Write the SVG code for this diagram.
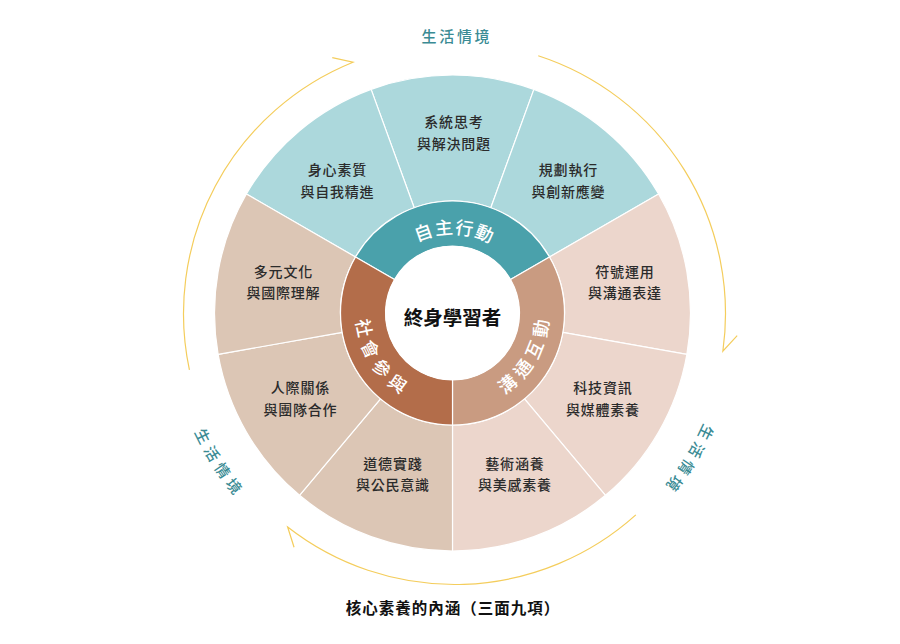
<svg xmlns="http://www.w3.org/2000/svg" width="900" height="644" viewBox="0 0 900 644">
<style>
.sec{stroke:#ffffff;stroke-width:1.2;stroke-linejoin:round}
.t{fill:#acd8dc}.r{fill:#ecd6cc}.l{fill:#dcc6b5}
.mt{fill:#4aa1ab}.mr{fill:#c99b81}.ml{fill:#b36d4a}
.lbl{font-family:"Noto Sans CJK TC","Noto Sans CJK SC",sans-serif;font-size:14px;font-weight:500;fill:#2b2b2b;letter-spacing:0.8px;text-anchor:middle}
.ring{font-family:"Noto Sans CJK TC","Noto Sans CJK SC",sans-serif;font-size:18px;font-weight:500;fill:#ffffff;text-anchor:middle}
.ctx{font-family:"Noto Sans CJK TC","Noto Sans CJK SC",sans-serif;font-size:15px;font-weight:500;fill:#3a8b94;text-anchor:middle}
.arc{fill:none;stroke:#f4cd5c;stroke-width:1.2}
</style>
<defs>
<path id="pTop" d="M392.88,261.17 A79,79 0 0 1 513.89,263.28"/>
<path id="pRight" d="M467.60,408.31 A96.5,96.5 0 0 0 543.74,281.58"/>
<path id="pLeft" d="M361.26,281.58 A96.5,96.5 0 0 0 437.40,408.31"/>
<path id="cLeft" d="M168.97,323.47 A285.7,285.7 0 0 0 320.37,565.76"/>
<path id="cRight" d="M726.71,320.63 A272.3,272.3 0 0 1 584.43,552.80"/>
</defs>
<rect x="0" y="0" width="900" height="644" fill="#ffffff"/>

<g id="connectors">
<path class="arc" d="M189.42,369.84 A271,271 0 0 1 352.98,62.23 L332.26,57.66"/>
<path class="arc" d="M538.24,55.76 A271,271 0 0 1 722.86,351.22 L737.18,335.56"/>
<path class="arc" d="M635.83,514.89 A271,271 0 0 1 287.66,527.05 L294.06,547.28"/>
</g>

<g id="outer-ring">
<g id="n-systems">
<path class="sec t" d="M371.10,89.35 A238,238 0 0 1 533.90,89.35 L490.81,207.75 A112,112 0 0 0 414.19,207.75 Z"/>
<text class="lbl" x="453.9" y="127"><tspan x="453.9">系統思考</tspan><tspan x="453.9" dy="21.6">與解決問題</tspan></text>
</g>
<g id="n-body">
<path class="sec t" d="M246.39,194.00 A238,238 0 0 1 371.10,89.35 L414.19,207.75 A112,112 0 0 0 355.50,257.00 Z"/>
<text class="lbl" x="337.4" y="175.3"><tspan x="337.4">身心素質</tspan><tspan x="337.4" dy="21.7">與自我精進</tspan></text>
</g>
<g id="n-plan">
<path class="sec t" d="M533.90,89.35 A238,238 0 0 1 658.61,194.00 L549.50,257.00 A112,112 0 0 0 490.81,207.75 Z"/>
<text class="lbl" x="568.4" y="175.3"><tspan x="568.4">規劃執行</tspan><tspan x="568.4" dy="21.7">與創新應變</tspan></text>
</g>
<g id="n-symbol">
<path class="sec r" d="M658.61,194.00 A238,238 0 0 1 686.88,354.33 L562.80,332.45 A112,112 0 0 0 549.50,257.00 Z"/>
<text class="lbl" x="624.9" y="277"><tspan x="624.9">符號運用</tspan><tspan x="624.9" dy="21.4">與溝通表達</tspan></text>
</g>
<g id="n-tech">
<path class="sec r" d="M686.88,354.33 A238,238 0 0 1 605.48,495.32 L524.49,398.80 A112,112 0 0 0 562.80,332.45 Z"/>
<text class="lbl" x="602.9" y="393.3"><tspan x="602.9">科技資訊</tspan><tspan x="602.9" dy="22">與媒體素養</tspan></text>
</g>
<g id="n-art">
<path class="sec r" d="M605.48,495.32 A238,238 0 0 1 452.5,551 L452.5,425 A112,112 0 0 0 524.49,398.80 Z"/>
<text class="lbl" x="514.9" y="468.6"><tspan x="514.9">藝術涵養</tspan><tspan x="514.9" dy="21.7">與美感素養</tspan></text>
</g>
<g id="n-moral">
<path class="sec l" d="M452.5,551 A238,238 0 0 1 299.52,495.32 L380.51,398.80 A112,112 0 0 0 452.5,425 Z"/>
<text class="lbl" x="392.9" y="468.6"><tspan x="392.9">道德實踐</tspan><tspan x="392.9" dy="21.7">與公民意識</tspan></text>
</g>
<g id="n-people">
<path class="sec l" d="M299.52,495.32 A238,238 0 0 1 218.12,354.33 L342.20,332.45 A112,112 0 0 0 380.51,398.80 Z"/>
<text class="lbl" x="300.4" y="393.3"><tspan x="300.4">人際關係</tspan><tspan x="300.4" dy="22">與團隊合作</tspan></text>
</g>
<g id="n-culture">
<path class="sec l" d="M218.12,354.33 A238,238 0 0 1 246.39,194.00 L355.50,257.00 A112,112 0 0 0 342.20,332.45 Z"/>
<text class="lbl" x="283.4" y="277"><tspan x="283.4">多元文化</tspan><tspan x="283.4" dy="21.4">與國際理解</tspan></text>
</g>
</g>

<g id="middle-ring">
<g id="n-autonomy">
<path class="sec mt" d="M355.50,257.00 A112,112 0 0 1 549.50,257.00 L510.52,279.50 A67,67 0 0 0 394.48,279.50 Z"/>
<text class="ring" letter-spacing="1.2"><textPath href="#pTop" startOffset="69.5">自主行動</textPath></text>
</g>
<g id="n-communication">
<path class="sec mr" d="M549.50,257.00 A112,112 0 0 1 452.5,425 L452.5,380 A67,67 0 0 0 510.52,279.50 Z"/>
<text class="ring" letter-spacing="5.8"><textPath href="#pRight" startOffset="87.1">溝通互動</textPath></text>
</g>
<g id="n-participation">
<path class="sec ml" d="M452.5,425 A112,112 0 0 1 355.50,257.00 L394.48,279.50 A67,67 0 0 0 452.5,380 Z"/>
<text class="ring" letter-spacing="5.8"><textPath href="#pLeft" startOffset="87.1">社會參與</textPath></text>
</g>
</g>

<g id="n-center">
<circle cx="452.5" cy="313" r="67" fill="#ffffff"/>
<text x="452.5" y="325" font-family="'Noto Sans CJK TC','Noto Sans CJK SC',sans-serif" font-size="19.5" font-weight="bold" fill="#111111" text-anchor="middle">終身學習者</text>
</g>

<g id="context-labels">
<text class="ctx" x="456.9" y="42.4" letter-spacing="2.7">生活情境</text>
<text class="ctx" letter-spacing="5"><textPath href="#cLeft" startOffset="152.1">生活情境</textPath></text>
<text class="ctx" letter-spacing="4.5"><textPath href="#cRight" startOffset="144.8">生活情境</textPath></text>
</g>

<g id="title">
<text x="453" y="614" font-family="'Noto Sans CJK TC','Noto Sans CJK SC',sans-serif" font-size="15.5" font-weight="bold" fill="#111111" text-anchor="middle" letter-spacing="1">核心素養的內涵（三面九項）</text>
</g>
</svg>
